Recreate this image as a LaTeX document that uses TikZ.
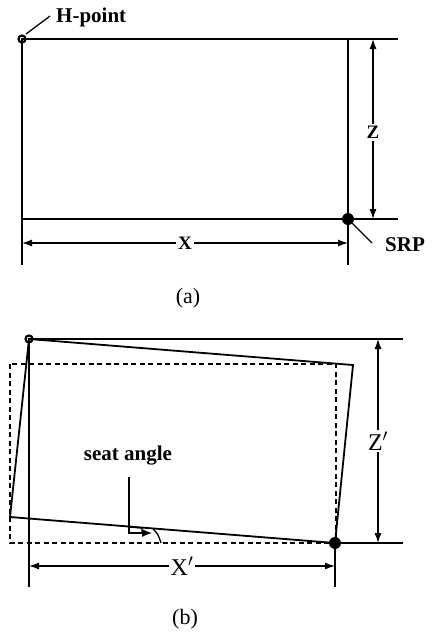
\documentclass[tikz,border=0pt]{standalone}
\usepackage{fontspec}
\setmainfont{Liberation Serif}
\usetikzlibrary{arrows.meta}
\begin{document}
\begin{tikzpicture}[x=1pt,y=-1pt,
  outline/.style={line width=1.8pt,line join=miter},
  extline/.style={line width=1.2pt},
  dimline/.style={line width=1.2pt,{Latex[length=10pt,width=7pt]}-{Latex[length=10pt,width=7pt]}},
  dimlabel/.style={fill=white,inner sep=2pt,font=\fontsize{19}{22}\selectfont\bfseries},
  dimlabelp/.style={fill=white,inner sep=2pt,font=\fontsize{24}{28}\selectfont},
  lbl/.style={font=\fontsize{21}{24}\selectfont\bfseries,inner sep=0pt},
  captext/.style={font=\fontsize{22}{26}\selectfont,inner sep=0pt},
  hpt/.style={line width=2.2pt},
  leader/.style={line width=1.3pt}]
\useasboundingbox (0,0) rectangle (435,638);
% ---------- panel (a) ----------
\coordinate (HA) at (22,39);
\coordinate (TRA) at (348,39);
\coordinate (SA) at (348,219);
\coordinate (BLA) at (22,219);
\draw[outline] (HA) -- (TRA) -- (SA) -- (BLA) -- cycle;
\coordinate (ETA) at (398,39);
\coordinate (EBA) at (398,219);
\draw[extline] (TRA) -- (ETA);
\draw[extline] (SA) -- (EBA);
\coordinate (ELA) at (22,265);
\coordinate (ERA) at (348,265);
\draw[extline] (BLA) -- (ELA);
\draw[extline] (SA) -- (ERA);
\coordinate (ZA1) at (373,39);
\coordinate (ZA2) at (373,219);
\draw[dimline] (ZA1) -- node[dimlabel,pos=0.52] (zlab) {Z} (ZA2);
\coordinate (XA1) at (22,243);
\coordinate (XA2) at (348,243);
\draw[dimline] (XA1) -- node[dimlabel,pos=0.5] (xlab) {X} (XA2);
\draw[hpt] (HA) circle (3.5);
\fill (SA) circle (6);
\coordinate (HL1) at (26,34);
\coordinate (HL2) at (50,16);
\draw[leader] (HL1) -- (HL2);
\node[lbl,anchor=west] (hpoint) at (56,17) {H-point};
\coordinate (SL1) at (352,223);
\coordinate (SL2) at (372,243);
\draw[leader] (SL1) -- (SL2);
\node[lbl,anchor=west] (srp) at (385,245) {SRP};
\node[captext] (capa) at (188,298) {(a)};
% ---------- panel (b) ----------
\coordinate (HB) at (29,339);
\coordinate (TRB) at (353,365);
\coordinate (SB) at (335,543);
\coordinate (BLB) at (10,517);
\draw[line width=1.2pt,dash pattern=on 5pt off 3.5pt] (10,364) rectangle (336,543);
\draw[outline] (HB) -- (TRB) -- (SB) -- (BLB) -- cycle;
\coordinate (ETB) at (403,339);
\coordinate (EBB) at (403,543);
\draw[extline] (HB) -- (ETB);
\draw[extline] (SB) -- (EBB);
\coordinate (ELB) at (29,587);
\coordinate (ERB) at (335,587);
\draw[extline] (HB) -- (ELB);
\draw[extline] (SB) -- (ERB);
\coordinate (ZB1) at (378,339);
\coordinate (ZB2) at (378,543);
\draw[dimline] (ZB1) -- node[dimlabelp,pos=0.5] (zplab) {Z$'$} (ZB2);
\coordinate (XB1) at (29,566);
\coordinate (XB2) at (335,566);
\draw[dimline] (XB1) -- node[dimlabelp,pos=0.5] (xplab) {X$'$} (XB2);
\draw[hpt] (HB) circle (3.5);
\fill (SB) circle (6);
\node[lbl] (seat) at (128,456) {seat angle};
\coordinate (SA1) at (129,477);
\coordinate (SA2) at (152,533);
\draw[leader,-{Latex[length=10pt,width=8pt]}] (SA1) |- (SA2);
\draw[leader] (129,527) -- (142,528) -- (142,533);
\draw[leader] (153,529) .. controls (158,534) .. (161,543);
\node[captext] (capb) at (185,619) {(b)};
\end{tikzpicture}
\end{document}
